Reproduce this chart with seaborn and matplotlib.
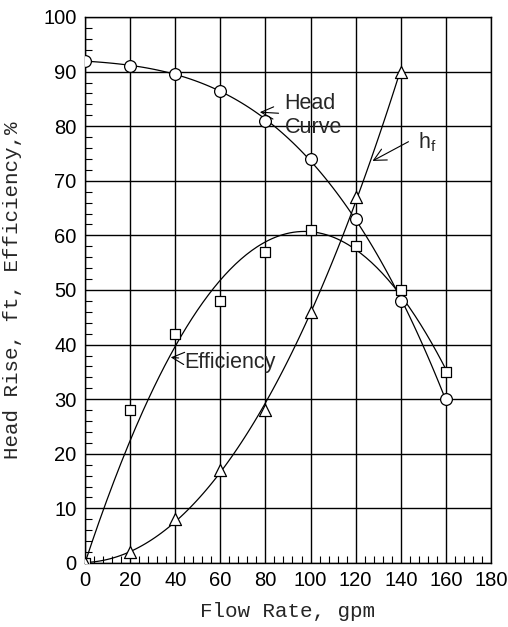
import numpy as np
import pandas as pd
import matplotlib
matplotlib.use('Agg')
import matplotlib.pyplot as plt
from matplotlib.ticker import MultipleLocator
import seaborn as sns

# Values
flow = [0, 20, 40, 60, 80, 100, 120, 140, 160]
head = [92, 91, 89.5, 86.5, 81, 74, 63, 48, 30]
efficiency = [0, 28, 42, 48, 57, 61, 58, 50, 35]
flow_hf = [0, 20, 40, 60, 80, 100, 120, 140]
hf = [0, 2, 8, 17, 28, 46, 67, 90]

x_ticks = [0, 20, 40, 60, 80, 100, 120, 140, 160, 180]
y_ticks = [0, 10, 20, 30, 40, 50, 60, 70, 80, 90, 100]

df_main = pd.DataFrame({'flow': flow, 'head': head, 'eff': efficiency})
df_hf = pd.DataFrame({'flow': flow_hf, 'hf': hf})

# Efficiency fit: quadratic forced through the origin
fx = np.array(flow, dtype=float)
A = np.column_stack([fx, fx ** 2])
coef, *_ = np.linalg.lstsq(A, np.array(efficiency, dtype=float), rcond=None)
xs = np.linspace(0, 160, 200)
df_eff_fit = pd.DataFrame({'flow': xs, 'eff': coef[0] * xs + coef[1] * xs ** 2})

sns.set_style('white')
plt.rcParams['font.family'] = ['Liberation Sans', 'DejaVu Sans']

fig = plt.figure(figsize=(5.08, 6.27), dpi=100)
ax = fig.add_axes([0.1673, 0.1021, 0.7992, 0.8708])

line_kw = dict(color='black', linewidth=0.9)

# Fitted curves
sns.regplot(data=df_main, x='flow', y='head', order=3, ci=None, scatter=False,
            line_kws=line_kw, ax=ax)
sns.lineplot(data=df_eff_fit, x='flow', y='eff', ax=ax, **line_kw)
sns.regplot(data=df_hf, x='flow', y='hf', order=3, ci=None, scatter=False,
            line_kws=line_kw, ax=ax)

# Markers
mk = dict(color='white', edgecolor='black', linewidth=0.9, zorder=5, ax=ax, legend=False)
sns.scatterplot(data=df_main, x='flow', y='head', marker='o', s=72, **mk)
sns.scatterplot(data=df_main, x='flow', y='eff', marker='s', s=55, **mk)
sns.scatterplot(data=df_hf, x='flow', y='hf', marker='^', s=75, **mk)

# Axes
ax.set_xlim(0, 180)
ax.set_ylim(0, 100)
ax.set_xticks(x_ticks)
ax.set_yticks(y_ticks)
ax.xaxis.set_minor_locator(MultipleLocator(4))
ax.yaxis.set_minor_locator(MultipleLocator(2))
ax.tick_params(which='major', length=0, labelsize=14.5, pad=6, colors='black')
ax.tick_params(which='minor', direction='in', length=5, width=0.8, colors='black',
               bottom=True, left=True)
ax.grid(True, which='major', color='black', linewidth=1.0)
for sp in ax.spines.values():
    sp.set_color('black')
    sp.set_linewidth(1.0)

mono = dict(family='Liberation Mono', fontsize=15)
ax.set_xlabel('Flow Rate, gpm', **mono)
ax.set_ylabel('Head Rise, ft, Efficiency,%', **mono)
ax.xaxis.set_label_coords(0.5, -0.072)
ax.yaxis.set_label_coords(-0.155, 0.5)

# Annotations
arrow = dict(arrowstyle='->', color='black', linewidth=0.8, mutation_scale=22)
ax.annotate('Head\nCurve', xy=(76.3, 82.6), xytext=(88.5, 82.0), fontsize=15.5,
            va='center', ha='left', linespacing=1.2, arrowprops=arrow)
ax.annotate('', xy=(126.4, 73.4), xytext=(144.5, 77.4), arrowprops=arrow)
ax.text(147.5, 77.0, 'h$_\\mathregular{f}$', fontsize=15.5, va='center', ha='left')
ax.annotate('Efficiency', xy=(36.8, 37.7), xytext=(44.2, 36.8), fontsize=15.5,
            va='center', ha='left', arrowprops=arrow)

fig.savefig('out.png', dpi=100)
